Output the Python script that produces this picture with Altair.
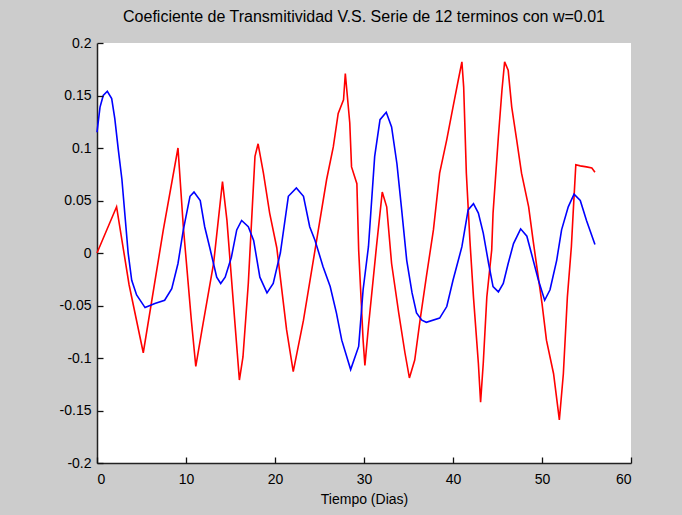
import altair as alt
import pandas as pd

# Red series (transmissivity coefficient)
red_t = [0.0, 2.2, 3.6, 5.2, 7.45, 9.1, 9.7, 10.6, 11.1, 11.8, 13.1, 14.1, 14.6, 15.5, 16.0,
         16.4, 17.0, 17.75, 18.1, 18.7, 19.4, 20.2, 21.3, 22.05, 23.2, 24.5, 25.8, 26.55, 27.1,
         27.7, 27.9, 28.4, 28.6, 29.2, 29.4, 29.9, 30.1, 30.5, 31.4, 32.05, 32.55, 33.1, 33.9,
         34.6, 35.1, 35.7, 36.3, 37.0, 37.8, 38.5, 39.3, 40.0, 40.6, 41.0, 41.2, 41.5, 41.9,
         42.3, 42.85, 43.1, 43.4, 43.8, 44.35, 44.5, 45.1, 45.5, 45.8, 46.2, 46.6, 47.15, 47.7,
         48.5, 49.0, 50.0, 50.5, 51.3, 51.95, 52.4, 52.85, 53.3, 53.5, 53.8, 54.3, 55.0, 55.6, 55.95]
red_v = [0.0, 0.044, -0.03, -0.095, 0.022, 0.100, 0.025, -0.064, -0.108, -0.073, -0.010, 0.068, 0.031, -0.067, -0.121,
         -0.099, -0.029, 0.092, 0.104, 0.076, 0.038, 0.005, -0.073, -0.113, -0.064, 0.003, 0.070, 0.101, 0.133,
         0.146, 0.171, 0.124, 0.082, 0.066, 0.003, -0.083, -0.107, -0.070, 0.006, 0.058, 0.044, -0.010, -0.057,
         -0.095, -0.119, -0.102, -0.064, -0.023, 0.022, 0.076, 0.108, 0.139, 0.165, 0.182, 0.158, 0.076, 0.012,
         -0.042, -0.105, -0.142, -0.105, -0.042, 0.003, 0.038, 0.111, 0.155, 0.182, 0.174, 0.139, 0.108, 0.076,
         0.044, 0.012, -0.048, -0.083, -0.115, -0.159, -0.115, -0.042, 0.006, 0.038, 0.084, 0.083, 0.082, 0.081, 0.077]

# Blue series (12-term series)
blue_t = [0.0, 0.34, 0.7, 1.16, 1.65, 2.0, 2.4, 2.8, 3.15, 3.5, 3.9, 4.45, 5.4, 6.5, 7.6, 8.4, 9.1,
          9.7, 10.45, 10.9, 11.6, 12.1, 12.7, 13.45, 13.9, 14.4, 15.1, 15.7, 16.25, 17.0, 17.6, 18.3,
          19.1, 19.8, 20.6, 21.5, 22.4, 23.2, 23.9, 24.5, 25.4, 26.2, 26.9, 27.5, 28.5, 29.4, 29.9,
          30.5, 31.2, 31.8, 32.5, 33.1, 33.7, 34.2, 34.8, 35.4, 35.9, 36.5, 37.0, 38.5, 39.3, 40.0,
          41.0, 41.7, 42.3, 42.85, 43.4, 44.0, 44.5, 45.1, 45.65, 46.2, 46.8, 47.6, 48.3, 48.8, 49.6,
          50.3, 50.9, 51.65, 52.2, 52.95, 53.6, 54.3, 55.0, 55.95]
blue_v = [0.115, 0.139, 0.150, 0.154, 0.147, 0.128, 0.098, 0.070, 0.035, 0.0, -0.026, -0.040, -0.052, -0.048, -0.045, -0.034, -0.010,
          0.022, 0.054, 0.058, 0.050, 0.025, 0.004, -0.023, -0.029, -0.023, -0.004, 0.022, 0.031, 0.025, 0.012, -0.023,
          -0.038, -0.029, 0.0, 0.054, 0.062, 0.054, 0.025, 0.012, -0.013, -0.032, -0.057, -0.083, -0.111, -0.089, -0.035,
          0.006, 0.092, 0.127, 0.134, 0.120, 0.085, 0.044, -0.007, -0.038, -0.057, -0.064, -0.066, -0.062, -0.051, -0.026,
          0.006, 0.041, 0.047, 0.038, 0.019, -0.010, -0.032, -0.037, -0.029, -0.010, 0.009, 0.023, 0.016, 0.0, -0.026,
          -0.045, -0.035, -0.007, 0.022, 0.044, 0.056, 0.050, 0.031, 0.008]

x_ticks = [0, 10, 20, 30, 40, 50, 60]
y_ticks = [-0.2, -0.15, -0.1, -0.05, 0, 0.05, 0.1, 0.15, 0.2]

df = pd.concat([
    pd.DataFrame({"t": red_t, "v": red_v, "serie": "Transmitividad", "o": range(len(red_t))}),
    pd.DataFrame({"t": blue_t, "v": blue_v, "serie": "Serie", "o": range(len(blue_t))}),
])

W, H = 534, 420
FONT = "Liberation Sans"
TICK = 6

x_scale = alt.Scale(domain=[0, 60], nice=False, zero=False)
y_scale = alt.Scale(domain=[-0.2, 0.2], nice=False, zero=False)
color = alt.Color("serie:N",
                  scale=alt.Scale(domain=["Transmitividad", "Serie"], range=["#ff0000", "#0000ff"]),
                  legend=None)

# Main layer: lines, axis lines and labels
lines = alt.Chart(df).mark_line(strokeWidth=1.6).encode(
    x=alt.X("t:Q", scale=x_scale,
            axis=alt.Axis(orient="bottom", values=x_ticks, title="Tiempo (Dias)", ticks=False, grid=False,
                          domainColor="#222222", domainWidth=1.5,
                          labelPadding=9, titlePadding=6)),
    y=alt.Y("v:Q", scale=y_scale,
            axis=alt.Axis(orient="left", values=y_ticks, title=None, ticks=False, grid=False,
                          labelExpr="'' + datum.value",
                          domainColor="#222222", domainWidth=1.5, labelPadding=6)),
    color=color,
    order="o:Q",
)

# Tick layer: inward-pointing ticks (axis shifted into the plot)
ticks = alt.Chart(df).mark_line(opacity=0).encode(
    x=alt.X("t:Q", scale=x_scale,
            axis=alt.Axis(orient="bottom", values=x_ticks, title=None, labels=False, domain=False, grid=False,
                          ticks=True, tickSize=TICK, offset=-TICK, tickColor="#111111", tickWidth=1.3,
                          tickOpacity=1, zindex=1)),
    y=alt.Y("v:Q", scale=y_scale,
            axis=alt.Axis(orient="left", values=y_ticks, title=None, labels=False, domain=False, grid=False,
                          ticks=True, tickSize=TICK, offset=-TICK, tickColor="#111111", tickWidth=1.3,
                          tickOpacity=1, zindex=1)),
    detail="serie:N",
)

chart = alt.layer(lines, ticks).resolve_axis(x="independent", y="independent").properties(
    width=W,
    height=H,
    title=alt.TitleParams("Coeficiente de Transmitividad V.S. Serie de 12 terminos con w=0.01",
                          fontSize=16, fontWeight="normal", font=FONT, color="#000000",
                          anchor="middle", offset=11),
    autosize=alt.AutoSizeParams(type="none"),
    padding={"left": 97, "top": 43, "right": 51, "bottom": 52},
    background="#cccccc",
).configure_view(
    fill="#ffffff", strokeWidth=0
).configure_axis(
    labelFont=FONT, titleFont=FONT, labelFontSize=14, titleFontSize=14,
    labelColor="#000000", titleColor="#000000", titleFontWeight="normal",
)

chart.save("out.html", embed_options={"renderer": "svg", "actions": False})
